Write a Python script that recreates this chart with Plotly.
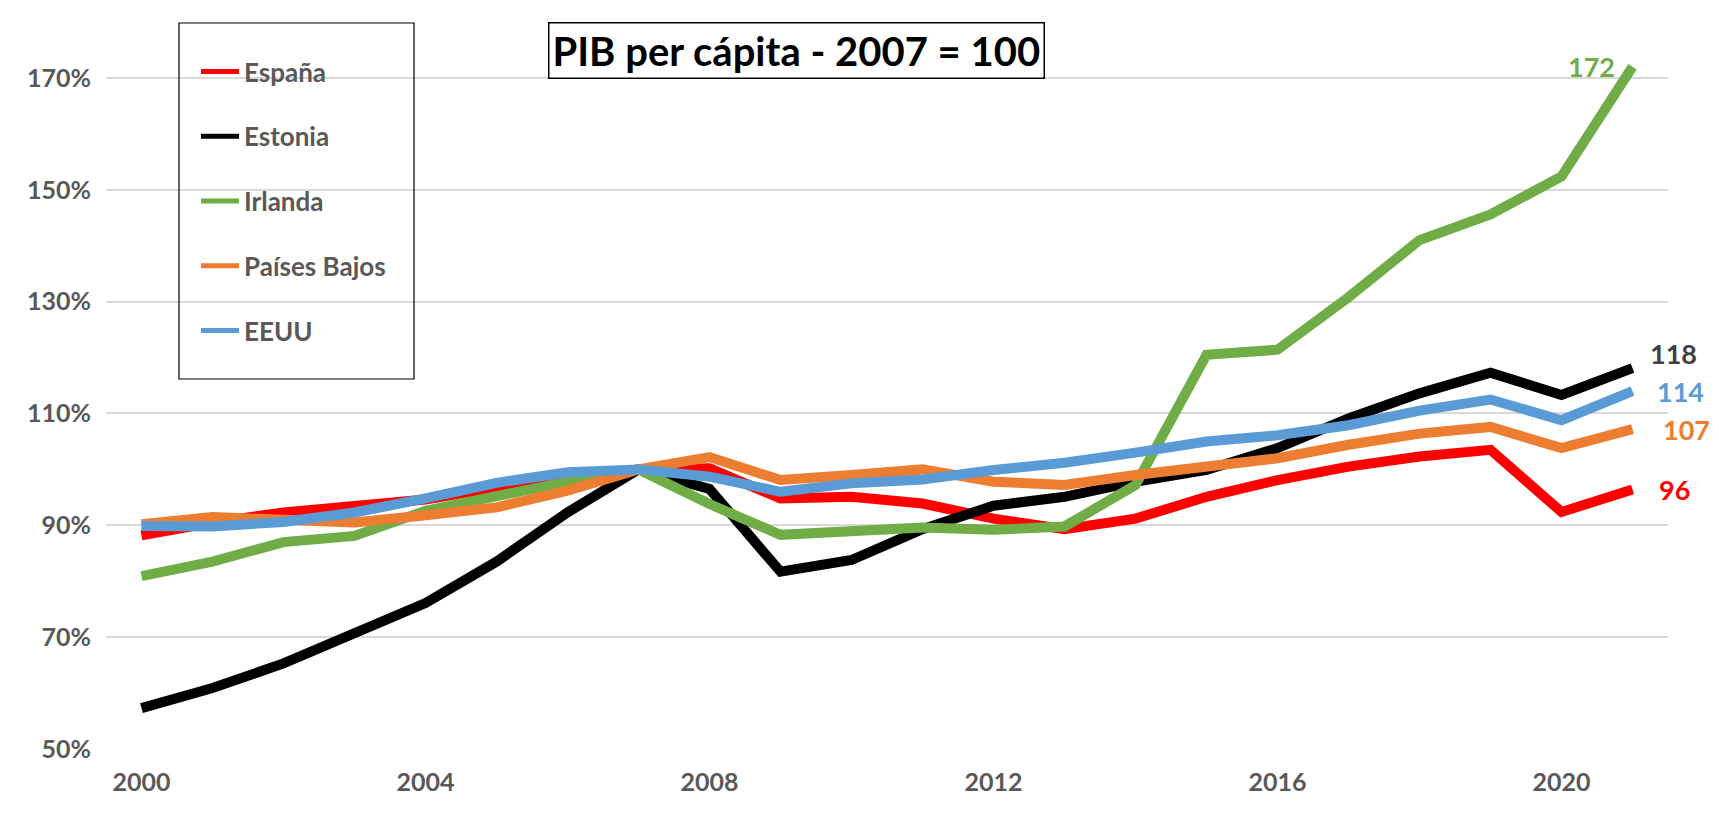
import plotly.graph_objects as go

years = list(range(2000, 2022))

espana = [88.2, 90.5, 92.3, 93.4, 94.6, 96.8, 98.8, 100.0, 100.2, 94.8, 95.1, 93.9,
          91.2, 89.3, 91.2, 95.1, 98.1, 100.5, 102.3, 103.5, 92.4, 96.4]
estonia = [57.3, 60.9, 65.3, 70.6, 76.1, 83.5, 92.3, 100.0, 96.5, 81.7, 83.8, 89.3,
           93.5, 95.1, 97.8, 99.9, 103.8, 109.1, 113.6, 117.3, 113.3, 118.1]
irlanda = [80.9, 83.5, 87.0, 88.1, 92.6, 95.4, 97.8, 100.0, 93.8, 88.3, 88.9, 89.6,
           89.2, 89.8, 97.2, 120.5, 121.4, 130.8, 141.0, 145.6, 152.4, 172.0]
paises_bajos = [90.2, 91.5, 91.0, 90.5, 91.8, 93.2, 96.2, 100.0, 102.2, 98.1, 99.0, 100.0,
                97.8, 97.2, 99.0, 100.5, 102.0, 104.4, 106.4, 107.6, 103.8, 107.2]
eeuu = [89.9, 89.8, 90.6, 92.3, 94.8, 97.6, 99.5, 100.0, 98.7, 96.0, 97.5, 98.2,
        99.9, 101.2, 103.0, 105.0, 106.1, 107.9, 110.5, 112.5, 108.8, 114.0]

series_names = ["España", "Estonia", "Irlanda", "Países Bajos", "EEUU"]
series_values = [espana, estonia, irlanda, paises_bajos, eeuu]
series_colors = ["#FF0000", "#000000", "#70AD47", "#ED7D31", "#5B9BD5"]
label_colors = ["#FF0000", "#404040", "#70AD47", "#ED7D31", "#5B9BD5"]

y_ticks = [50, 70, 90, 110, 130, 150, 170]
y_tick_labels = ["50%", "70%", "90%", "110%", "130%", "150%", "170%"]
x_ticks = [2000, 2004, 2008, 2012, 2016, 2020]

title_text = "PIB per cápita - 2007 = 100"

FONT = "Lato"
GRAY = "#595959"

W, H = 1719, 822
ML, MR, MT, MB = 106, 51, 50, 73
PW = W - ML - MR
PH = H - MT - MB


def px_to_paper_x(px):
    return (px - ML) / PW


def px_to_paper_y(py):
    return (H - MB - py) / PH


fig = go.Figure()
for name, vals, col in zip(series_names, series_values, series_colors):
    fig.add_trace(go.Scatter(
        x=years, y=vals, name=name, mode="lines",
        line=dict(color=col, width=10),
        legendgroup=name, showlegend=False,
    ))
# legend entries (thinner sample lines, as in the reference)
for name, col in zip(series_names, series_colors):
    fig.add_trace(go.Scatter(
        x=[None], y=[None], name=name, mode="lines",
        line=dict(color=col, width=5),
        legendgroup=name, showlegend=True, hoverinfo="skip",
    ))

# end-of-line value labels
label_offsets = {
    "España": (24, 0, "left"),
    "Estonia": (15, 15, "left"),
    "Irlanda": (-16, 0, "right"),
    "Países Bajos": (28, 0, "left"),
    "EEUU": (22, 0, "left"),
}
annotations = []
for name, vals, lc in zip(series_names, series_values, label_colors):
    xs, ys, anc = label_offsets[name]
    annotations.append(dict(
        x=years[-1], y=vals[-1], xref="x", yref="y",
        text="<b>%d</b>" % round(vals[-1]), showarrow=False,
        xanchor=anc, yanchor="middle", xshift=xs, yshift=ys,
        font=dict(family=FONT, size=27, color=lc),
    ))

annotations.append(dict(
    x=px_to_paper_x(796), y=px_to_paper_y(51), xref="paper", yref="paper",
    text="<b>" + title_text + "</b>", showarrow=False,
    xanchor="center", yanchor="middle",
    font=dict(family=FONT, size=40, color="#000000"),
    bordercolor="#000000", borderwidth=1.5, borderpad=3, bgcolor="#FFFFFF",
))

shapes = [dict(
    type="rect", xref="paper", yref="paper",
    x0=px_to_paper_x(179), x1=px_to_paper_x(414),
    y0=px_to_paper_y(379), y1=px_to_paper_y(23),
    line=dict(color="#000000", width=1.2), fillcolor="rgba(0,0,0,0)",
    layer="above",
)]

fig.update_layout(
    width=W, height=H,
    margin=dict(l=ML, r=MR, t=MT, b=MB),
    paper_bgcolor="#FFFFFF", plot_bgcolor="#FFFFFF",
    font=dict(family=FONT, color=GRAY),
    showlegend=True,
    legend=dict(
        x=px_to_paper_x(196), y=px_to_paper_y(48), xanchor="left", yanchor="top",
        font=dict(family=FONT, size=26, color=GRAY, weight="bold"),
        bgcolor="rgba(0,0,0,0)", borderwidth=0,
        tracegroupgap=28, itemwidth=38,
    ),
    annotations=annotations,
    shapes=shapes,
    xaxis=dict(
        range=[1999.5, 2021.5], tickvals=x_ticks,
        showgrid=False, zeroline=False, showline=False,
        tickfont=dict(family=FONT, size=25, color=GRAY, weight="bold"),
        ticklabelstandoff=16,
    ),
    yaxis=dict(
        range=[50, 175], tickmode="array", tickvals=y_ticks, ticktext=y_tick_labels,
        showgrid=True, gridcolor="#D9D9D9", gridwidth=1.5,
        zeroline=False, showline=False,
        tickfont=dict(family=FONT, size=25, color=GRAY, weight="bold"),
        ticklabelstandoff=14,
    ),
)

fig.write_html(
    "out.html",
    config={"displayModeBar": False},
    post_script="document.body.style.margin='0px';document.body.style.overflow='hidden';",
)
